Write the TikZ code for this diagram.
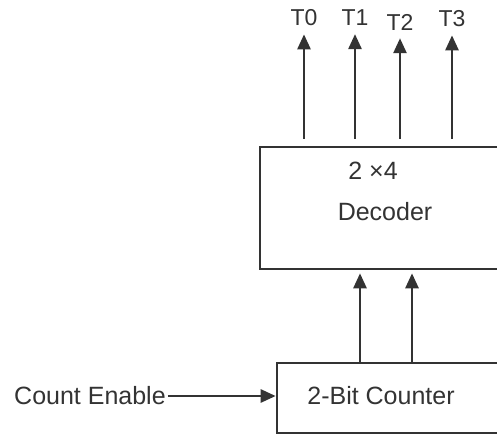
\documentclass[tikz,border=0pt]{standalone}
\usepackage{fontspec}
\setmainfont{Liberation Sans}
\usetikzlibrary{arrows.meta}
\definecolor{ink}{HTML}{333333}
\begin{document}
\begin{tikzpicture}[x=1pt,y=1pt,
  box/.style={draw=ink,line width=2.6pt,rectangle,inner sep=0pt},
  arr/.style={draw=ink,line width=2.6pt,-{Triangle[length=15pt,width=13pt]}},
  lbl/.style={text=ink,font=\fontsize{23}{26}\selectfont,inner sep=0pt},
  txt/.style={text=ink,font=\fontsize{25}{28}\selectfont,inner sep=0pt}]
\useasboundingbox (0,0) rectangle (497,-435);
\clip (0,0) rectangle (497,-435);
\node[box,minimum width=300pt,minimum height=122pt] (decoder) at (410,-208) {};
\node[box,minimum width=283pt,minimum height=70pt] (counter) at (418.5,-398) {};
\node[txt] (dim) at (373,-171) {2 ×4};
\node[txt] (dec) at (385,-212) {Decoder};
\node[txt] (cnt) at (381,-396) {2-Bit Counter};
\node[txt,anchor=west] (ce) at (14,-396) {Count Enable};
\node[lbl] (t0) at (304,-18) {T0};
\node[lbl] (t1) at (355,-18) {T1};
\node[lbl] (t2) at (400,-22) {T2};
\node[lbl] (t3) at (452,-19) {T3};
\foreach \t in {t0,t1,t2,t3}{
  \draw[arr] ([yshift=7pt]decoder.north -| \t) -- ([yshift=-8pt]\t.south);
}
\coordinate (a1) at (360,0);
\coordinate (a2) at (412,0);
\draw[arr] (counter.north -| a1) -- ([yshift=-3pt]decoder.south -| a1);
\draw[arr] (counter.north -| a2) -- ([yshift=-3pt]decoder.south -| a2);
\draw[arr] ([xshift=2pt]ce.east) -- (ce.east -| counter.west);
\end{tikzpicture}
\end{document}
